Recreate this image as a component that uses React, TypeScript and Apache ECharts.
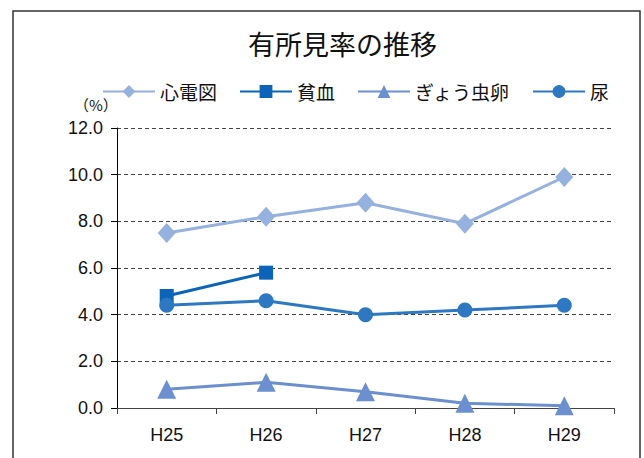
import React, { useEffect, useRef } from "react";
import * as echarts from "echarts";

const categories = ["H25", "H26", "H27", "H28", "H29"];
const seriesNames = ["心電図", "貧血", "ぎょう虫卵", "尿"];
const ecgValues = [7.5, 8.2, 8.8, 7.9, 9.9];
const anemiaValues: (number | null)[] = [4.8, 5.8, null, null, null];
const pinwormValues = [0.8, 1.1, 0.7, 0.2, 0.1];
const urineValues = [4.4, 4.6, 4.0, 4.2, 4.4];
const yTicks = [0, 2, 4, 6, 8, 10, 12];

const colors = ["#95B1DD", "#0B64B8", "#6B8FCF", "#2E78C2"];
const symbols = ["diamond", "rect", "triangle", "circle"];
const symbolSizes: any[] = [[18, 20], 14, [19, 19], 15];
const dataSets = [ecgValues, anemiaValues, pinwormValues, urineValues];

const CJK = '"Noto Sans CJK JP", "Noto Sans", sans-serif';
const LATIN = '"Liberation Sans", Arial, sans-serif';

export default function App() {
  const ref = useRef<HTMLDivElement>(null);
  useEffect(() => {
    if (!ref.current) return;
    const chart = echarts.init(ref.current, undefined, { renderer: "svg" });
    chart.setOption({
      animation: false,
      backgroundColor: "#ffffff",
      title: {
        text: "有所見率の推移",
        left: 243,
        top: 25,
        textStyle: { fontFamily: CJK, fontSize: 27, fontWeight: "normal", color: "#111" },
      },
      legend: {
        data: seriesNames,
        left: 97,
        top: 77,
        itemWidth: 52,
        itemHeight: 16,
        itemGap: 22,
        textStyle: { fontFamily: CJK, fontSize: 19, color: "#111" },
      },
      graphic: [
        {
          type: "rect",
          shape: { x: 13, y: 11, width: 627, height: 470 },
          style: { fill: "none", stroke: "#333", lineWidth: 1.5 },
          silent: true,
        },
        {
          type: "text",
          left: 74,
          top: 97,
          style: { text: "（%）", font: `15px ${CJK}`, fill: "#111" },
        },
      ],
      grid: { left: 117, right: 30, top: 128, bottom: 50 },
      xAxis: {
        type: "category",
        data: categories,
        boundaryGap: true,
        axisLine: { lineStyle: { color: "#444", width: 1 } },
        axisTick: { show: true, length: 6, lineStyle: { color: "#444" } },
        axisLabel: { fontFamily: LATIN, fontSize: 18, color: "#111", margin: 18 },
      },
      yAxis: {
        type: "value",
        min: yTicks[0],
        max: yTicks[yTicks.length - 1],
        interval: 2,
        axisLine: { show: true, lineStyle: { color: "#000", width: 1 } },
        axisTick: { show: true, length: 6, lineStyle: { color: "#000" } },
        axisLabel: {
          fontFamily: LATIN,
          fontSize: 18,
          color: "#111",
          margin: 14,
          formatter: (v: number) => v.toFixed(1),
        },
        splitLine: { show: true, lineStyle: { color: "#444", type: [4, 3], width: 1 } },
      },
      series: seriesNames.map((name, i) => ({
        name,
        type: "line",
        data: dataSets[i],
        symbol: symbols[i],
        symbolSize: symbolSizes[i],
        color: colors[i],
        lineStyle: { color: colors[i], width: 3 },
        itemStyle: { color: colors[i] },
        connectNulls: false,
      })),
    });
    return () => chart.dispose();
  }, []);
  return (
    <div
      ref={ref}
      style={{ position: "absolute", left: 0, top: 0, width: 644, height: 458 }}
    />
  );
}
